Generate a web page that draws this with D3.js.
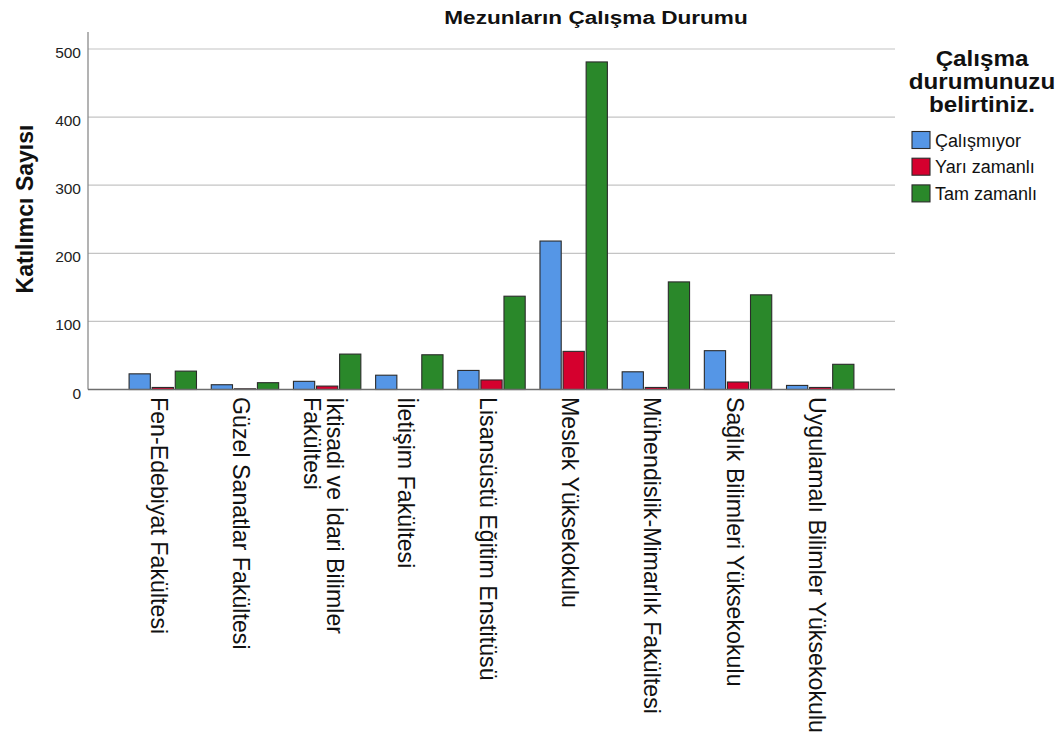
<!DOCTYPE html>
<html>
<head>
<meta charset="utf-8">
<script src="https://cdn.jsdelivr.net/npm/d3@7"></script>
<style>
  body { margin: 0; background: #fff; }
  text { font-family: "Liberation Sans", Arial, sans-serif; fill: #111; }
</style>
</head>
<body>
<script>
// categories (faculties), label lines split where the chart wraps them
const categories = [
  "Fen-Edebiyat Fakültesi",
  "Güzel Sanatlar Fakültesi",
  "İktisadi ve İdari Bilimler\nFakültesi",
  "İletişim Fakültesi",
  "Lisansüstü Eğitim Enstitüsü",
  "Meslek Yüksekokulu",
  "Mühendislik-Mimarlık Fakültesi",
  "Sağlık Bilimleri Yüksekokulu",
  "Uygulamalı Bilimler Yüksekokulu",
];

const seriesNames = ["Çalışmıyor", "Yarı zamanlı", "Tam zamanlı"];
const seriesColors = ["#5596e6", "#d5002e", "#2a882a"];

// counts
const calismiyor = [23, 7, 12, 21, 28, 218, 26, 57, 6];
const yariZamanli = [3, 1, 5, 0, 14, 56, 3, 11, 3];
const tamZamanli = [27, 10, 52, 51, 137, 481, 158, 139, 37];

const yTicks = [0, 100, 200, 300, 400, 500];

const W = 1058, H = 742;
const plot = { left: 88, right: 895, top: 32, bottom: 389.5 };

const svg = d3.select("body").append("svg")
  .attr("width", W)
  .attr("height", H);

// scales
const x0 = d3.scaleBand()
  .domain(categories)
  .range([plot.left, plot.right])
  .paddingInner(0)
  .paddingOuter(0.41);

const groupW = 67.4;
const x1 = d3.scaleBand()
  .domain(seriesNames)
  .range([0, groupW])
  .paddingInner(0.08);

const y = d3.scaleLinear().domain([0, 500]).range([plot.bottom, 49]);

// gridlines
svg.append("g")
  .selectAll("line")
  .data(yTicks.filter(d => d > 0))
  .join("line")
  .attr("x1", plot.left)
  .attr("x2", plot.right)
  .attr("y1", d => y(d))
  .attr("y2", d => y(d))
  .attr("stroke", "#c4c4c4")
  .attr("stroke-width", 1.2);

// y axis
const yAxis = svg.append("g")
  .attr("transform", "translate(" + plot.left + ",0)")
  .call(d3.axisLeft(y).tickValues(yTicks).tickSize(0).tickPadding(7));
yAxis.select(".domain").remove();
yAxis.selectAll("text")
  .attr("dy", "0.55em")
  .style("font-size", "15.5px")
  .style("font-family", "'Liberation Sans', Arial, sans-serif")
  .style("fill", "#222");

svg.append("line")
  .attr("x1", plot.left).attr("x2", plot.left)
  .attr("y1", plot.top).attr("y2", plot.bottom)
  .attr("stroke", "#8a8a8a").attr("stroke-width", 1.3);

// bars
const rows = categories.map((c, i) => ({
  cat: c,
  vals: [calismiyor[i], yariZamanli[i], tamZamanli[i]],
}));

const groups = svg.append("g")
  .selectAll("g")
  .data(rows)
  .join("g")
  .attr("transform", d => "translate(" + (x0(d.cat) + x0.bandwidth() / 2 - groupW / 2) + ",0)");

groups.selectAll("rect")
  .data(d => d.vals.map((v, k) => ({ key: seriesNames[k], v: v, k: k })).filter(d => d.v > 0))
  .join("rect")
  .attr("x", d => x1(d.key))
  .attr("width", x1.bandwidth())
  .attr("y", d => y(d.v))
  .attr("height", d => y(0) - y(d.v))
  .attr("fill", d => seriesColors[d.k])
  .attr("stroke", "#2b2b2b")
  .attr("stroke-width", 1.1);

// x axis line
svg.append("line")
  .attr("x1", plot.left).attr("x2", plot.right)
  .attr("y1", plot.bottom).attr("y2", plot.bottom)
  .attr("stroke", "#6e6e6e").attr("stroke-width", 1.3);

// rotated category labels
const labelSize = 23.2;
const lineGap = 23.5;
const labels = svg.append("g")
  .selectAll("text")
  .data(categories)
  .join("text")
  .attr("transform", d => "translate(" + (x0(d) + x0.bandwidth() / 2) + "," + 397 + ") rotate(90)")
  .style("font-size", labelSize + "px");

labels.each(function (d) {
  const lines = d.split("\n");
  const n = lines.length;
  const first = 11.5 - ((n - 1) * lineGap) / 2;
  d3.select(this).selectAll("tspan")
    .data(lines)
    .join("tspan")
    .attr("x", 0)
    .attr("y", (l, i) => first + i * lineGap)
    .text(l => l);
});

// y axis title
svg.append("text")
  .attr("transform", "translate(33,209) rotate(-90)")
  .attr("text-anchor", "middle")
  .style("font-size", "23px")
  .style("font-weight", "bold")
  .text("Katılımcı Sayısı");

// chart title (stretched horizontally like the original)
svg.append("text")
  .attr("transform", "translate(596,24) scale(1.22,1)")
  .attr("text-anchor", "middle")
  .style("font-size", "18.5px")
  .style("font-weight", "bold")
  .text("Mezunların Çalışma Durumu");

// legend
const legendTitle = ["Çalışma", "durumunuzu", "belirtiniz."];
svg.append("g")
  .selectAll("text")
  .data(legendTitle)
  .join("text")
  .attr("transform", (d, i) => "translate(982," + (66 + i * 23) + ") scale(1.1,1)")
  .attr("text-anchor", "middle")
  .style("font-size", "22px")
  .style("font-weight", "bold")
  .text(d => d);

const legend = svg.append("g")
  .selectAll("g")
  .data(seriesNames)
  .join("g")
  .attr("transform", (d, i) => "translate(912," + (131.5 + i * 26.7) + ")");

legend.append("rect")
  .attr("width", 18)
  .attr("height", 17)
  .attr("fill", (d, i) => seriesColors[i])
  .attr("stroke", "#2b2b2b")
  .attr("stroke-width", 1.1);

legend.append("text")
  .attr("x", 23)
  .attr("y", 15)
  .style("font-size", "18px")
  .text(d => d);
</script>
</body>
</html>
